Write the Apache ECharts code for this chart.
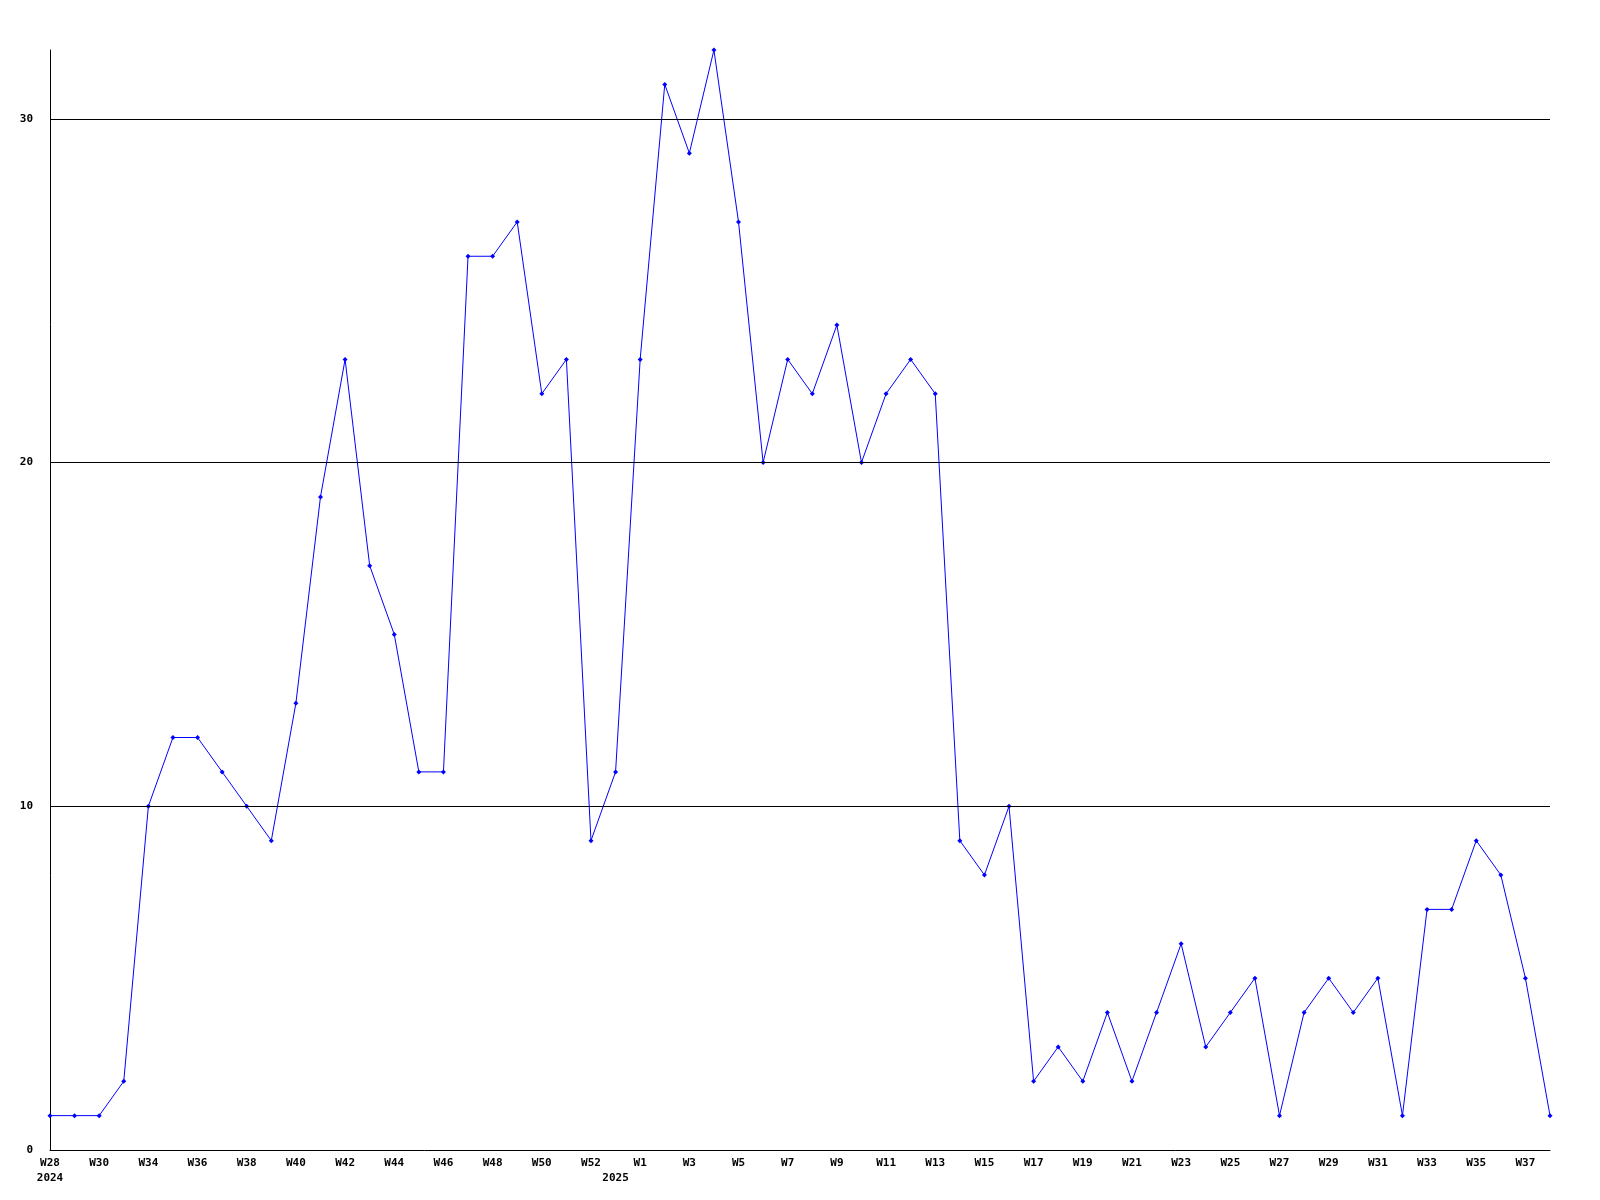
<!DOCTYPE html>
<html>
<head>
<meta charset="utf-8">
<script src="https://cdn.jsdelivr.net/npm/echarts@6/dist/echarts.min.js"></script>
<style>html,body{margin:0;padding:0;background:#fff}#c{width:1600px;height:1200px}</style>
</head>
<body>
<div id="c"></div>
<script>
const weeks = ['W28','W29','W30','W33','W34','W35','W36','W37','W38','W39','W40','W41','W42','W43','W44','W45','W46','W47','W48','W49','W50','W51','W52',
  'W0','W1','W2','W3','W4','W5','W6','W7','W8','W9','W10','W11','W12','W13','W14','W15','W16','W17','W18','W19','W20','W21','W22','W23','W24','W25','W26','W27','W28','W29','W30','W31','W32','W33','W34','W35','W36','W37','W38'];
const years = {0:'2024', 23:'2025'};
const values = [1,1,1,2,10,12,12,11,10,9,13,19,23,17,15,11,11,26,26,27,22,23,9,
  11,23,31,29,32,27,20,23,22,24,20,22,23,22,9,8,10,2,3,2,4,2,4,6,3,4,5,1,4,5,4,5,1,7,7,9,8,5,1];
const gridValues = [10,20,30];

const chart = echarts.init(document.getElementById('c'));
const font = {fontFamily:'DejaVu Sans Mono', fontWeight:'bold', fontSize:11, color:'#000'};
chart.setOption({
  animation:false,
  grid:{left:50,right:50,top:50,bottom:50},
  xAxis:{
    type:'category', data:weeks, boundaryGap:false,
    axisLine:{lineStyle:{color:'#000',width:1}},
    axisTick:{show:false},
    axisLabel:Object.assign({}, font, {
      interval:0, margin:6, lineHeight:15, hideOverlap:false,
      formatter:(v,i)=>{
        const w = (i%2===0)? v : '';
        return years[i]!==undefined ? (w + '\n' + years[i]) : w;
      }
    })
  },
  yAxis:{
    type:'value', min:0, max:32, interval:10,
    axisLine:{show:true,lineStyle:{color:'#000',width:1}},
    axisTick:{show:false},
    splitLine:{show:false},
    axisLabel:Object.assign({}, font, {margin:17, showMaxLabel:false,
      formatter:v=> (v%10===0)? String(v) : ''})
  },
  series:[{
    type:'line', data:values,
    symbol:'diamond', symbolSize:5,
    lineStyle:{color:'#0000ff',width:1},
    itemStyle:{color:'#0000ff'},
    markLine:{silent:true, symbol:'none', label:{show:false},
      lineStyle:{color:'#000',width:1,type:'solid'},
      data:gridValues.map(v=>({yAxis:v}))}
  }]
});
</script>
</body>
</html>
